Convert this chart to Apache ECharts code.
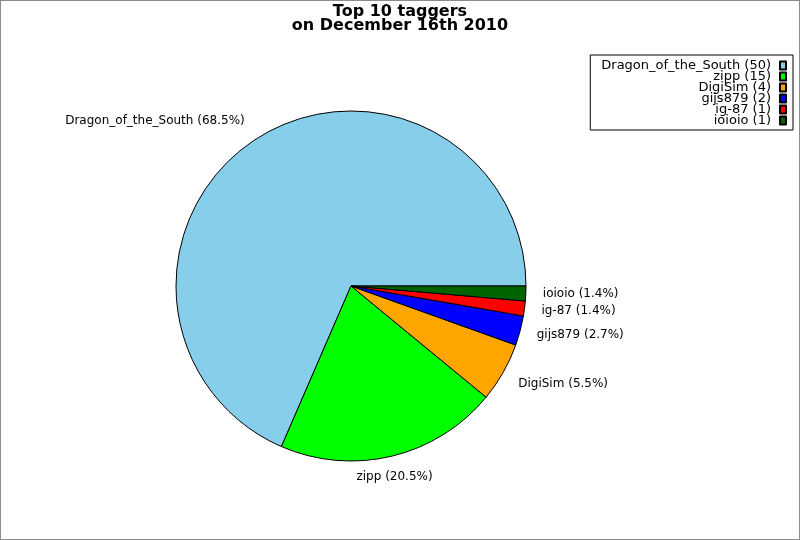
<!DOCTYPE html>
<html>
<head lang="en">
<meta charset="UTF-8">
<title>Top 10 taggers</title>
<script type="text/javascript" src="https://cdn.jsdelivr.net/npm/echarts@6/dist/echarts.min.js"></script>
<style>
	html, body { margin: 0; padding: 0; background: #fff; }
	#chart { width: 800px; height: 540px; box-sizing: border-box; border: 1px solid #8c8c8c; }
</style>
</head>
<body>
	<div id="chart"></div>
	<script type="text/javascript">
		// data
		var taggers = [ 'Dragon_of_the_South', 'zipp', 'DigiSim', 'gijs879', 'ig-87', 'ioioio' ];
		var tagCounts = [ 50, 15, 4, 2, 1, 1 ];
		var sliceColors = [ '#87ceeb', '#00ff00', '#ffa500', '#0000ff', '#ff0000', '#006400' ];

		var counts = {};
		var total = 0;
		var pieData = [];
		for ( var i = 0; i < taggers.length; i++) {
			counts[taggers[i]] = tagCounts[i];
			total += tagCounts[i];
			pieData.push({
				name : taggers[i],
				value : tagCounts[i],
				itemStyle : { color : sliceColors[i] }
			});
		}

		var chart = echarts.init(document.getElementById('chart'));
		var font = 'DejaVu Sans';

		option = {
			animation : false,
			title : {
				text : 'Top 10 taggers\non December 16th 2010',
				left : 'center',
				top : 4,
				padding : 0,
				textStyle : {
					fontFamily : font,
					fontSize : 16,
					fontWeight : 'bold',
					lineHeight : 14,
					color : '#000'
				}
			},
			legend : {
				orient : 'vertical',
				right : 6,
				top : 54,
				align : 'right',
				itemGap : -2,
				itemWidth : 6,
				itemHeight : 8,
				padding : [ 4, 6, 3, 11 ],
				borderColor : '#000',
				borderWidth : 1,
				icon : 'rect',
				data : taggers,
				formatter : function(name) {
					return name + ' (' + counts[name] + ')';
				},
				textStyle : {
					fontFamily : font,
					fontSize : 13,
					lineHeight : 10,
					color : '#000',
					padding : [ 0, 4, 0, 0 ]
				}
			},
			series : [ {
				type : 'pie',
				center : [ 350, 285 ],
				radius : 175,
				startAngle : 0,
				clockwise : false,
				avoidLabelOverlap : false,
				itemStyle : {
					borderColor : '#000',
					borderWidth : 1
				},
				label : {
					show : true,
					position : 'outside',
					distanceToLabelLine : 2,
					fontFamily : font,
					fontSize : 12,
					color : '#000',
					formatter : function(p) {
						return p.name + ' (' + (p.value / total * 100).toFixed(1) + '%)';
					}
				},
				labelLine : {
					show : false,
					length : 15,
					length2 : 0
				},
				labelLayout : function(params) {
					// small nudges so the labels sit as in the picture
					if (params.dataIndex === 0) {
						return { dy : -6 };
					}
					if (params.dataIndex === 1) {
						return { align : 'center', dx : -3, dy : 6 };
					}
					if (params.dataIndex === 2) {
						return { dy : 4 };
					}
					return {};
				},
				data : pieData
			} ]
		};
		chart.setOption(option);
	</script>
</body>
</html>
